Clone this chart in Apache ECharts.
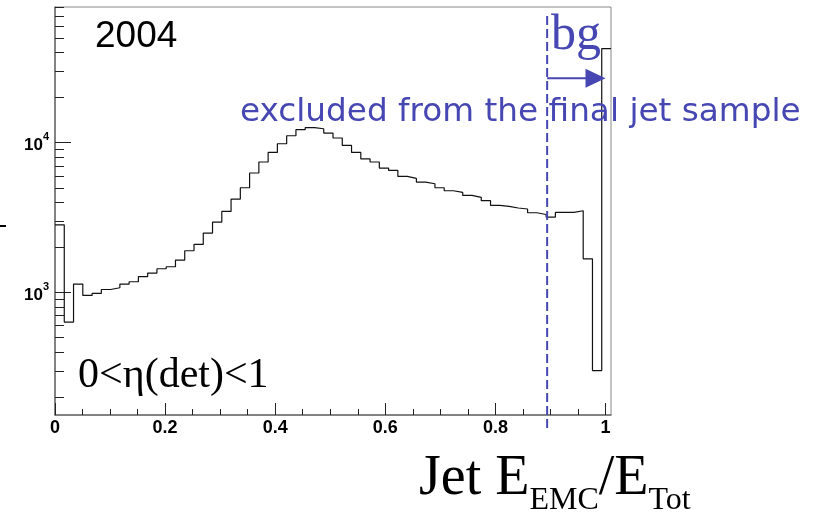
<!DOCTYPE html>
<html>
<head>
<meta charset="utf-8">
<script src="https://cdn.jsdelivr.net/npm/echarts@6/dist/echarts.min.js"></script>
<style>
html,body{margin:0;padding:0;background:#fff;}
#chart{width:821px;height:514px;}
</style>
</head>
<body>
<div id="chart"></div>
<script>
// ---- data ----
const xMin = 0;
const xMax = 1.01;
const nBins = 60;
const counts = [
  2830, 634, 1138, 955, 985, 1047, 1075, 1138, 1179, 1278,
  1348, 1440, 1485, 1645, 1900, 2094, 2494, 2951, 3475, 4205,
  5003, 6276, 7435, 8613, 9843, 11135, 12217, 12600, 12393, 11604,
  10750, 9600, 8613, 7800, 7435, 6776, 6533, 5957, 5777, 5463,
  5321, 5003, 4777, 4656, 4446, 4313, 4100, 3812, 3758, 3665,
  3610, 3407, 3318, 3190, 3423, 3430, 3513, 1679, 301, 42500
];
const xTickLabels = [0, 0.2, 0.4, 0.6, 0.8, 1];
const xMinorTicks = [0.05, 0.1, 0.15, 0.25, 0.3, 0.35, 0.45, 0.5, 0.55, 0.65, 0.7, 0.75, 0.85, 0.9, 0.95];
const yMin = 152;
const yMax = 80600;
const yMajorTicks = [1000, 10000];
const yMinorTicks = [200, 300, 400, 500, 600, 700, 800, 900,
  2000, 3000, 4000, 5000, 6000, 7000, 8000, 9000,
  20000, 30000, 40000, 50000, 60000, 70000, 80000];
const cutX = 0.894;
const arrowEndX = 1.0;
const arrowY = 27000;
const yearText = '2004';
const bgText = 'bg';
const excludedText = 'excluded from the final jet sample';
const etaText = '0<η(det)<1';

// ---- build ----
const lg = v => Math.log10(v);
const binW = (xMax - xMin) / nBins;
const stepData = counts.map((c, i) => [xMin + i * binW, lg(c)]);
stepData.push([xMax, lg(counts[counts.length - 1])]);

const chart = echarts.init(document.getElementById('chart'), null, {renderer: 'canvas'});
const blue = '#4747b3';
const axisGray = '#6e6e6e';

chart.setOption({
  animation: false,
  backgroundColor: '#fff',
  grid: {left: 55, right: 210, top: 7, bottom: 99, show: true, borderColor: '#888', borderWidth: 1, backgroundColor: 'transparent'},
  xAxis: [
    {
      type: 'value', position: 'bottom', min: xMin, max: xMax,
      axisLine: {show: true, lineStyle: {color: axisGray, width: 1.5}},
      axisTick: {show: true, inside: true, length: 12, customValues: xTickLabels, lineStyle: {color: '#222', width: 1}},
      axisLabel: {customValues: xTickLabels, fontFamily: 'Liberation Sans', fontWeight: 'bold', fontSize: 18, color: '#000', margin: 4,
        formatter: v => String(+(+v).toFixed(1))},
      splitLine: {show: false}
    },
    {
      type: 'value', position: 'bottom', min: xMin, max: xMax,
      axisLine: {show: false},
      axisTick: {show: true, inside: true, length: 6, customValues: xMinorTicks, lineStyle: {color: '#222', width: 1}},
      axisLabel: {show: false},
      splitLine: {show: false}
    }
  ],
  yAxis: [
    {
      type: 'value', position: 'left', min: lg(yMin), max: lg(yMax),
      axisLine: {show: true, onZero: false, lineStyle: {color: axisGray, width: 1.5}},
      axisTick: {show: true, inside: true, length: 16, customValues: yMajorTicks.map(lg), lineStyle: {color: '#222', width: 1}},
      axisLabel: {customValues: yMajorTicks.map(lg), margin: 6,
        formatter: v => '{b|10}{s|' + Math.round(v) + '}',
        rich: {
          b: {fontFamily: 'Liberation Sans', fontWeight: 'bold', fontSize: 17, color: '#000', padding: [5, 0, 0, 0]},
          s: {fontFamily: 'Liberation Sans', fontWeight: 'bold', fontSize: 11, color: '#000', verticalAlign: 'top'}
        }},
      splitLine: {show: false}
    },
    {
      type: 'value', position: 'left', min: lg(yMin), max: lg(yMax),
      axisLine: {show: false, onZero: false},
      axisTick: {show: true, inside: true, length: 9, customValues: yMinorTicks.map(lg), lineStyle: {color: '#222', width: 1}},
      axisLabel: {show: false},
      splitLine: {show: false}
    }
  ],
  series: [{
    type: 'line',
    xAxisIndex: 0, yAxisIndex: 0,
    step: 'end',
    symbol: 'none',
    lineStyle: {color: '#111', width: 1.2},
    data: stepData,
    z: 3
  }]
});

const px = chart.convertToPixel({xAxisIndex: 0}, cutX);
const ax1 = chart.convertToPixel({xAxisIndex: 0}, arrowEndX);
const ay = chart.convertToPixel({yAxisIndex: 0}, lg(arrowY));

chart.setOption({
  graphic: [
    {type: 'text', z: 10, style: {text: yearText, x: 95, y: 37, fontFamily: 'Liberation Sans', fontSize: 37, fill: '#000', textVerticalAlign: 'middle'}},
    {type: 'text', z: 10, style: {text: excludedText, x: 240, y: 113, fontFamily: 'DejaVu Sans', fontSize: 32.7, fill: blue, textVerticalAlign: 'middle'}},
    {type: 'text', z: 10, style: {text: bgText, x: 551, y: 36, fontFamily: 'Liberation Serif', fontSize: 50, fill: blue, textVerticalAlign: 'middle'}},
    {type: 'text', z: 10, style: {text: etaText, x: 78, y: 376, fontFamily: 'Liberation Serif', fontSize: 42, fill: '#000', textVerticalAlign: 'middle'}},
    {type: 'text', z: 10, style: {
      text: '{m|Jet E}{s|EMC}{m|/E}{s|Tot}', x: 419, y: 451, textVerticalAlign: 'top',
      rich: {
        m: {fontFamily: 'Liberation Serif', fontSize: 56, lineHeight: 56, color: '#000', verticalAlign: 'top'},
        s: {fontFamily: 'Liberation Serif', fontSize: 32, lineHeight: 32, color: '#000', verticalAlign: 'top', padding: [34, 0, 0, 0]}
      }}},
    {type: 'line', z: 9, shape: {x1: px, y1: 16, x2: px, y2: 428}, style: {stroke: blue, lineWidth: 2, lineDash: [9, 4]}},
    {type: 'line', z: 9, shape: {x1: px, y1: ay, x2: ax1 - 18, y2: ay}, style: {stroke: blue, lineWidth: 2}},
    {type: 'polygon', z: 9, shape: {points: [[ax1 - 20, ay - 9.5], [ax1, ay], [ax1 - 20, ay + 9.5]]}, style: {fill: blue}},
    {type: 'line', z: 9, shape: {x1: 0, y1: 226, x2: 6, y2: 226}, style: {stroke: '#000', lineWidth: 2}}
  ]
});
</script>
</body>
</html>
